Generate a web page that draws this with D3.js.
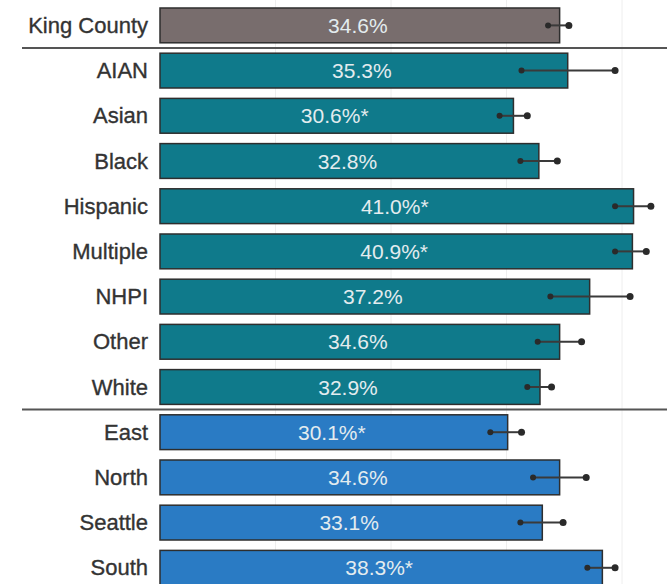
<!DOCTYPE html>
<html>
<head>
<meta charset="utf-8">
<script src="https://cdn.jsdelivr.net/npm/d3@7"></script>
<style>
  body { margin: 0; background: #fff; }
  svg { display: block; font-family: "Liberation Sans", Arial, sans-serif; }
</style>
</head>
<body>
<div id="chart"></div>
<script>
// data
var categories = ["King County", "AIAN", "Asian", "Black", "Hispanic", "Multiple", "NHPI", "Other", "White", "East", "North", "Seattle", "South"];
var groups = ["total", "race", "race", "race", "race", "race", "race", "race", "race", "region", "region", "region", "region"];
var values = [34.6, 35.3, 30.6, 32.8, 41.0, 40.9, 37.2, 34.6, 32.9, 30.1, 34.6, 33.1, 38.3];
var lower = [33.6, 31.3, 29.4, 31.2, 39.4, 39.4, 33.8, 32.7, 31.8, 28.6, 32.3, 31.2, 37.0];
var upper = [35.4, 39.4, 31.8, 34.4, 42.5, 42.1, 40.7, 36.5, 33.9, 31.3, 36.9, 34.9, 39.4];
var significant = [false, false, true, false, true, true, false, false, false, true, false, false, true];
var gridTicks = [10, 20, 30, 40];

var colors = { total: "#786d6d", race: "#0f7a8b", region: "#2a7bc4" };

var rows = categories.map(function(c, i) {
  return { name: c, group: groups[i], value: values[i], lo: lower[i], hi: upper[i], sig: significant[i] };
});

var svgWidth = 667, svgHeight = 584;

var svg = d3.select("#chart").append("svg")
  .attr("width", svgWidth)
  .attr("height", svgHeight);

var xScale = d3.scaleLinear()
  .domain([0, 40])
  .range([160, 622]);

var yScale = d3.scaleBand()
  .domain(categories)
  .range([2.8, 590.4])
  .paddingInner(0.23)
  .paddingOuter(0.115);

// faint vertical gridlines
svg.append("g")
  .selectAll("line")
  .data(gridTicks)
  .enter()
  .append("line")
  .attr("x1", d => xScale(d))
  .attr("x2", d => xScale(d))
  .attr("y1", 0)
  .attr("y2", svgHeight)
  .attr("stroke", "#eeeeee")
  .attr("stroke-width", 1);

// bars
svg.append("g")
  .selectAll("rect")
  .data(rows)
  .enter()
  .append("rect")
  .attr("x", xScale(0))
  .attr("y", d => yScale(d.name))
  .attr("width", d => xScale(d.value) - xScale(0))
  .attr("height", yScale.bandwidth())
  .attr("fill", d => colors[d.group])
  .attr("stroke", "#2e2e2e")
  .attr("stroke-width", 1.5);

// value labels
svg.append("g")
  .selectAll("text")
  .data(rows)
  .enter()
  .append("text")
  .attr("x", d => (xScale(0) + xScale(d.value)) / 2 - 2)
  .attr("y", d => yScale(d.name) + yScale.bandwidth() / 2)
  .attr("text-anchor", "middle")
  .attr("dominant-baseline", "central")
  .attr("fill", "#e3ecef")
  .style("font-size", "21px")
  .text(d => d.value.toFixed(1) + "%" + (d.sig ? "*" : ""));

// category labels
svg.append("g")
  .selectAll("text")
  .data(rows)
  .enter()
  .append("text")
  .attr("x", 148)
  .attr("y", d => yScale(d.name) + yScale.bandwidth() / 2)
  .attr("text-anchor", "end")
  .attr("dominant-baseline", "central")
  .attr("fill", "#333")
  .attr("stroke", "#333")
  .attr("stroke-width", 0.35)
  .style("font-size", "22px")
  .text(d => d.name);

// confidence intervals
var ci = svg.append("g");
ci.selectAll("line")
  .data(rows)
  .enter()
  .append("line")
  .attr("x1", d => xScale(d.lo))
  .attr("x2", d => xScale(d.hi))
  .attr("y1", d => yScale(d.name) + yScale.bandwidth() / 2)
  .attr("y2", d => yScale(d.name) + yScale.bandwidth() / 2)
  .attr("stroke", "#3a3a3a")
  .attr("stroke-width", 2);

ci.selectAll("circle.lo")
  .data(rows)
  .enter()
  .append("circle")
  .attr("class", "lo")
  .attr("cx", d => xScale(d.lo))
  .attr("cy", d => yScale(d.name) + yScale.bandwidth() / 2)
  .attr("r", 3)
  .attr("fill", "#2a2a2a");

ci.selectAll("circle.hi")
  .data(rows)
  .enter()
  .append("circle")
  .attr("class", "hi")
  .attr("cx", d => xScale(d.hi))
  .attr("cy", d => yScale(d.name) + yScale.bandwidth() / 2)
  .attr("r", 3.5)
  .attr("fill", "#2a2a2a");

// group separators
var step = yScale.step();
var gap = step - yScale.bandwidth();
["AIAN", "East"].forEach(function(c) {
  var y = yScale(c) - gap / 2;
  svg.append("line")
    .attr("x1", 22)
    .attr("x2", svgWidth)
    .attr("y1", y)
    .attr("y2", y)
    .attr("stroke", "#555")
    .attr("stroke-width", 2);
});
</script>
</body>
</html>
